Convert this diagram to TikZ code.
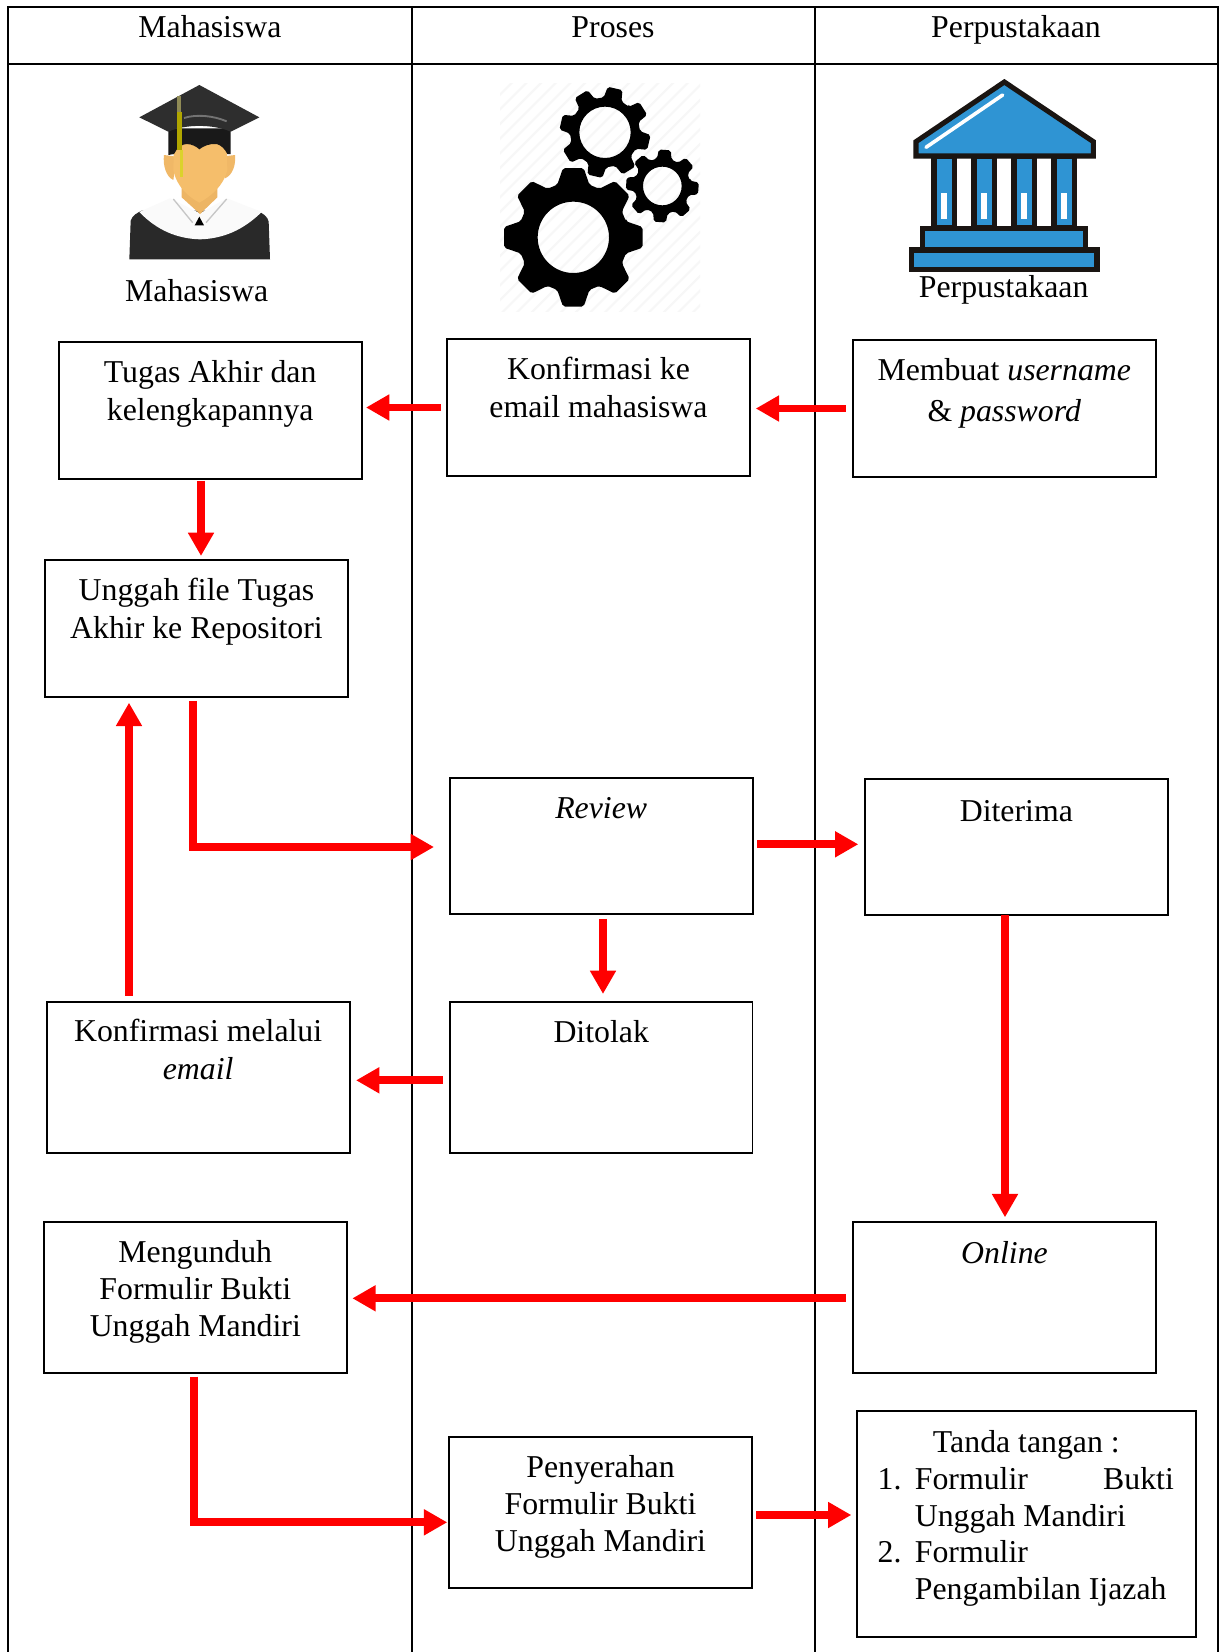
\documentclass[tikz,border=0pt]{standalone}
\usepackage{fontspec}
\setmainfont{Liberation Serif}
\usetikzlibrary{arrows.meta}
\definecolor{bankblue}{HTML}{2F94D3}
\definecolor{bankdark}{HTML}{1A1512}
\definecolor{skin}{HTML}{F5BE6B}
\definecolor{capdark}{HTML}{2E2E2E}
\tikzset{
  tablerule/.style={line width=1.35pt,black},
  fbox/.style={draw=black,line width=1.35pt,inner sep=0pt,outer sep=0pt,fill=white},
  headtext/.style={inner sep=0pt,anchor=base,font=\fontsize{23.85}{28}\selectfont},
  conn/.style={draw=red,line width=5.8pt,-{Triangle[length=17.5pt,width=18.5pt]},line join=miter},
}
\newcommand{\flowbox}[8]{%
  \pgfmathsetmacro\fbW{(#4-#2)*0.75}%
  \pgfmathsetmacro\fbH{(#5-#3)*0.75}%
  \pgfmathsetmacro\fbO{#6*0.75}%
  \pgfmathsetmacro\fbS{#7*0.75}%
  \node[fbox] (#1) at ({(#2+#4)/2},{(#3+#5)/2})
    {\parbox[t][\fbH pt][t]{\fbW pt}{\fontsize{23.85}{\fbS pt}\selectfont\centering\rule{0pt}{\fbO pt}#8\par}};%
}
\newcommand{\gearshape}[8]{% cx cy Rout Rroot hole rot roothalf tiphalf
  \begin{scope}[shift={(#1,#2)}]
    \fill[black,even odd rule,rounded corners=1.5pt]
      ({#6-#7}:#4) foreach \k in {0,...,7} {
        -- ({\k*45+#6-#7}:#4) -- ({\k*45+#6-#8}:#3) -- ({\k*45+#6+#8}:#3) -- ({\k*45+#6+#7}:#4)
      } -- cycle (0,0) circle (#5);
  \end{scope}%
}
\begin{document}
\begin{tikzpicture}[x=0.75pt,y=-0.75pt]
\useasboundingbox (0,0) rectangle (1222,1652);
\fill[white] (0,0) rectangle (1222,1652);

% table
\draw[tablerule] (8,1652) -- (8,7) -- (1218,7) -- (1218,1652);
\draw[tablerule] (8,64) -- (1218,64);
\draw[tablerule] (412,7) -- (412,1652);
\draw[tablerule] (815,7) -- (815,1652);
\node[headtext] (hmhs) at (210,38) {Mahasiswa};
\node[headtext] (hpro) at (613,38) {Proses};
\node[headtext] (hper) at (1016,38) {Perpustakaan};

% student icon
\begin{scope}[x=0.25pt,y=-0.25pt]
  \fill[capdark!90!black] (388,778) -- (392,662) .. controls (398,645) and (410,640) .. (425,632)
     -- (770,632) .. controls (790,640) and (803,650) .. (806,665) -- (810,778) -- cycle;
  \fill[white!96!gray] (418,636) -- (510,595) -- (600,640) -- (680,595) -- (785,636)
     .. controls (730,690) and (670,716) .. (600,718) .. controls (530,716) and (470,690) .. (418,636) -- cycle;
  \draw[gray!45,line width=1pt] (520,597) -- (578,668) (680,597) -- (618,668);
  \fill[black] (598,650) -- (584,676) -- (612,676) -- cycle;
  \fill[skin!85!brown] (545,540) -- (545,592) -- (600,642) -- (652,592) -- (652,540) -- cycle;
  \fill[skin!90!brown] (492,465) .. controls (488,495) and (498,530) .. (520,540) -- (530,470) -- cycle
     (705,465) .. controls (708,495) and (698,525) .. (675,535) -- (665,470) -- cycle;
  \fill[skin] (522,430) -- (680,430) -- (682,510) .. controls (670,560) and (630,590) .. (598,608)
     .. controls (565,590) and (530,560) .. (520,510) -- cycle;
  \fill[black!90] (505,385) -- (505,465) -- (522,462) .. controls (530,445) and (545,432) .. (560,432)
     .. controls (575,432) and (590,440) .. (598,448) .. controls (610,438) and (630,430) .. (650,432)
     .. controls (665,436) and (675,448) .. (682,462) -- (692,462) -- (692,385) -- cycle;
  \fill[capdark] (598,255) -- (778,352) -- (692,395) .. controls (640,372) and (555,372) .. (505,395) -- (418,352) -- cycle;
  \draw[black!55,line width=1.4pt] (552,354) .. controls (590,342) and (640,347) .. (680,364);
  \draw[line width=2.8pt,gray!60!olive] (537,288) -- (537,335);
  \draw[line width=3.4pt,olive!70!yellow] (538,335) -- (538,450);
  \draw[line width=2.6pt,yellow!60!olive!80!white] (544,450) -- (544,530);
  \node[headtext] (lmhs) at (590,903) {Mahasiswa};
\end{scope}

% gears icon
\begin{scope}[shift={(420,0)},x=0.25pt,y=-0.25pt]
  \begin{scope}
    \clip (240,250) rectangle (840,935);
    \foreach \s in {-480,-436,...,840}
      \draw[black!3,line width=1.6pt] (\s,960) -- ({\s+720},240);
  \end{scope}
  \gearshape{460}{712}{210}{165}{107}{0}{17}{8.5}
  \gearshape{555}{397}{137}{105}{77}{-32}{15}{9.5}
  \gearshape{727}{558}{110}{84}{58}{4}{15}{9.5}
\end{scope}

% bank icon
\begin{scope}[shift={(820,0)},x=0.25pt,y=-0.25pt]
  \draw[bankdark,fill=bankblue,line width=3.8pt,line join=miter] (553,246) -- (820,425) -- (820,468) -- (288,468) -- (288,425) -- cycle;
  \draw[white,line width=2.7pt,line cap=round] (318,442) -- (548,285);
  \foreach \c in {0,1,2,3} {
    \draw[bankdark,fill=bankblue,line width=3.8pt] ({342+120*\c},470) rectangle ({403+120*\c},684);
    \fill[white] ({364+120*\c},578) rectangle ({381+120*\c},658);
  }
  \draw[bankdark,fill=bankblue,line width=3.8pt] (307,686) rectangle (796,748);
  \draw[bankdark,fill=bankblue,line width=3.8pt] (275,750) rectangle (831,808);
  \node[headtext] (lper) at (551,891) {Perpustakaan};
\end{scope}

% boxes
\flowbox{tugas}{58.7}{342.3}{361.7}{478.7}{40.4}{37.7}{Tugas Akhir dan\\kelengkapannya}
\flowbox{konf}{447}{339.3}{750}{475.7}{39.7}{38}{Konfirmasi ke\\email mahasiswa}
\flowbox{memb}{852.7}{340.3}{1155.8}{476.7}{39.7}{41}{Membuat \textit{username}\\\& \textit{password}}
\flowbox{unggah}{45}{560}{348}{696.7}{40.3}{38}{Unggah file Tugas\\Akhir ke Repositori}
\flowbox{review}{449.6}{777.7}{752.7}{914}{41}{38}{\textit{Review}}
\flowbox{diterima}{865}{779.3}{1167.7}{915.3}{42.4}{38}{Diterima}
\flowbox{melalui}{46.7}{1001.7}{349.6}{1153}{40}{38}{Konfirmasi melalui\\\textit{email}}
\flowbox{ditolak}{450}{1001.7}{752.4}{1152.7}{41}{38}{Ditolak}
\flowbox{unduh}{43.6}{1221.7}{347}{1373.3}{41}{36.7}{Mengunduh\\Formulir Bukti\\Unggah Mandiri}
\flowbox{online}{853}{1221.7}{1156}{1373}{42}{38}{\textit{Online}}
\flowbox{serah}{449}{1437}{752}{1588.3}{40.7}{36.7}{Penyerahan\\Formulir Bukti\\Unggah Mandiri}
\flowbox{tanda}{856.7}{1411}{1196}{1637.3}{41.5}{36.8}{Tanda tangan :\\
  \makebox[254.25pt][l]{\hbox to 43.5pt{\hfil 1.\hspace{10pt}}\hbox to 194.25pt{Formulir\hfil Bukti}}\\
  \makebox[254.25pt][l]{\hspace{43.5pt}Unggah Mandiri}\\
  \makebox[254.25pt][l]{\hbox to 43.5pt{\hfil 2.\hspace{10pt}}Formulir}\\
  \makebox[254.25pt][l]{\hspace{43.5pt}Pengambilan Ijazah}}

% guide coordinates for connector routes
\coordinate (xtugas) at (201,0);
\coordinate (xmelalui) at (129,0);
\coordinate (xunggah) at (193.3,0);
\coordinate (xreview) at (603,0);
\coordinate (xditerima) at (1005,0);
\coordinate (xunduh) at (194,0);
\coordinate (yreview) at (0,844.3);
\coordinate (ytolak) at (0,1080.3);
\coordinate (yonline) at (0,1298.3);
\coordinate (yserah) at (0,1522.3);
\coordinate (yserah2) at (0,1515);
\coordinate (yreview2) at (0,847);

% connectors
\draw[conn,shorten <=4.5pt,shorten >=3.2pt] (konf.west) -- (tugas.east |- konf.west);
\draw[conn,shorten <=5.2pt,shorten >=4.3pt] (memb.west) -- (konf.east |- memb.west);
\draw[conn,shorten <=1.7pt,shorten >=3pt] (tugas.south -| xtugas) -- (unggah.north -| xtugas);
\draw[conn,shorten <=4.3pt,shorten >=4.5pt] (melalui.north -| xmelalui) -- (unggah.south -| xmelalui);
\draw[conn,shorten <=3.2pt,shorten >=11.7pt] (unggah.south -| xunggah) |- (review.west |- yreview2);
\draw[conn,shorten <=3.4pt,shorten >=5pt] (review.east |- yreview) -- (diterima.west |- yreview);
\draw[conn,shorten <=3.7pt,shorten >=5.8pt] (review.south -| xreview) -- (ditolak.north -| xreview);
\draw[conn,shorten <=5.5pt,shorten >=4.8pt] (ditolak.west |- ytolak) -- (melalui.east |- ytolak);
\draw[conn,shorten >=3.3pt] (diterima.south -| xditerima) -- (online.north -| xditerima);
\draw[conn,shorten <=5.5pt,shorten >=4pt] (online.west |- yonline) -- (unduh.east |- yonline);
\draw[conn,shorten <=2.5pt,shorten >=1.3pt] (unduh.south -| xunduh) |- (serah.west |- yserah);
\draw[conn,shorten <=3pt,shorten >=4pt] (serah.east |- yserah2) -- (tanda.west |- yserah2);
\end{tikzpicture}
\end{document}
